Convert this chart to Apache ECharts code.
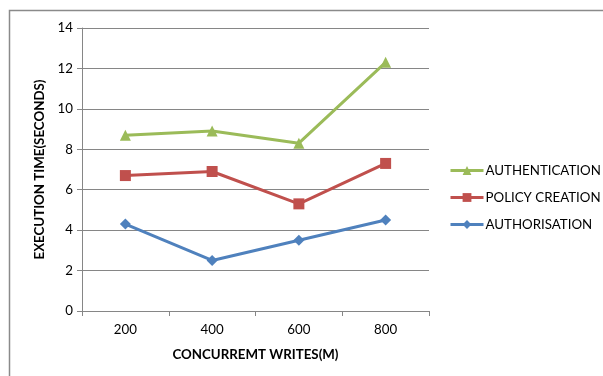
<!DOCTYPE html>
<html>
<head>
<meta charset="utf-8">
<script src="https://cdn.jsdelivr.net/npm/echarts@6/dist/echarts.min.js"></script>
<style>
  html, body { margin: 0; padding: 0; background: #fff; }
  #chart { width: 603px; height: 376px; }
</style>
</head>
<body>
<div id="chart"></div>
<script>
// Concurrent writes (M) on the x axis
const categories = ['200', '400', '600', '800'];
// Execution time in seconds per operation
const authentication = [8.7, 8.9, 8.3, 12.3];
const policyCreation = [6.7, 6.9, 5.3, 7.3];
const authorisation = [4.3, 2.5, 3.5, 4.5];
const seriesNames = ['AUTHENTICATION', 'POLICY CREATION', 'AUTHORISATION'];

const font = 'Lato, Open Sans, sans-serif';
const fs = 13.3;
const chart = echarts.init(document.getElementById('chart'), null, { renderer: 'canvas' });

function lineSeries(name, data, color, symbol, size) {
  return {
    name: name,
    type: 'line',
    data: data,
    symbol: symbol,
    symbolSize: size,
    showAllSymbol: true,
    lineStyle: { color: color, width: 3 },
    itemStyle: { color: color },
    emphasis: { disabled: true }
  };
}

chart.setOption({
  animation: false,
  graphic: [{
    type: 'rect',
    shape: { x: 9.5, y: 10.5, width: 700, height: 500 },
    style: { fill: 'none', stroke: '#8a8a8a', lineWidth: 1.5 },
    silent: true
  }],
  grid: { left: 82, top: 28, width: 347, height: 283 },
  legend: {
    orient: 'vertical',
    left: 444,
    top: 159,
    itemWidth: 33,
    itemHeight: 11,
    itemGap: 14,
    data: seriesNames,
    lineStyle: { width: 3 },
    textStyle: { fontFamily: font, fontSize: fs, color: '#000', padding: [0, 0, 0, -3] },
    selectedMode: false
  },
  xAxis: {
    type: 'category',
    data: categories,
    boundaryGap: true,
    name: 'CONCURREMT WRITES(M)',
    nameLocation: 'middle',
    nameGap: 37,
    nameTextStyle: { fontFamily: font, fontSize: fs, fontWeight: 'bold', color: '#000' },
    axisLine: { lineStyle: { color: '#868686', width: 1 } },
    axisTick: { show: true, length: 5, alignWithLabel: false, lineStyle: { color: '#868686' } },
    axisLabel: { fontFamily: font, fontSize: fs, color: '#000', margin: 12 },
    splitLine: { show: false }
  },
  yAxis: {
    type: 'value',
    min: 0,
    max: 14,
    interval: 2,
    name: 'EXECUTION TIME(SECONDS)',
    nameLocation: 'middle',
    nameGap: 36,
    nameRotate: 90,
    nameTextStyle: { fontFamily: font, fontSize: fs, fontWeight: 'bold', color: '#000' },
    axisLine: { show: true, lineStyle: { color: '#868686', width: 1 } },
    axisTick: { show: true, length: 5, lineStyle: { color: '#868686' } },
    axisLabel: { fontFamily: font, fontSize: fs, color: '#000', margin: 9 },
    splitLine: { show: true, lineStyle: { color: '#868686', width: 1 } }
  },
  series: [
    lineSeries(seriesNames[0], authentication, '#9BBB59', 'triangle', 11),
    lineSeries(seriesNames[1], policyCreation, '#C0504D', 'rect', 11),
    lineSeries(seriesNames[2], authorisation, '#4F81BD', 'diamond', 11)
  ]
});
</script>
</body>
</html>
